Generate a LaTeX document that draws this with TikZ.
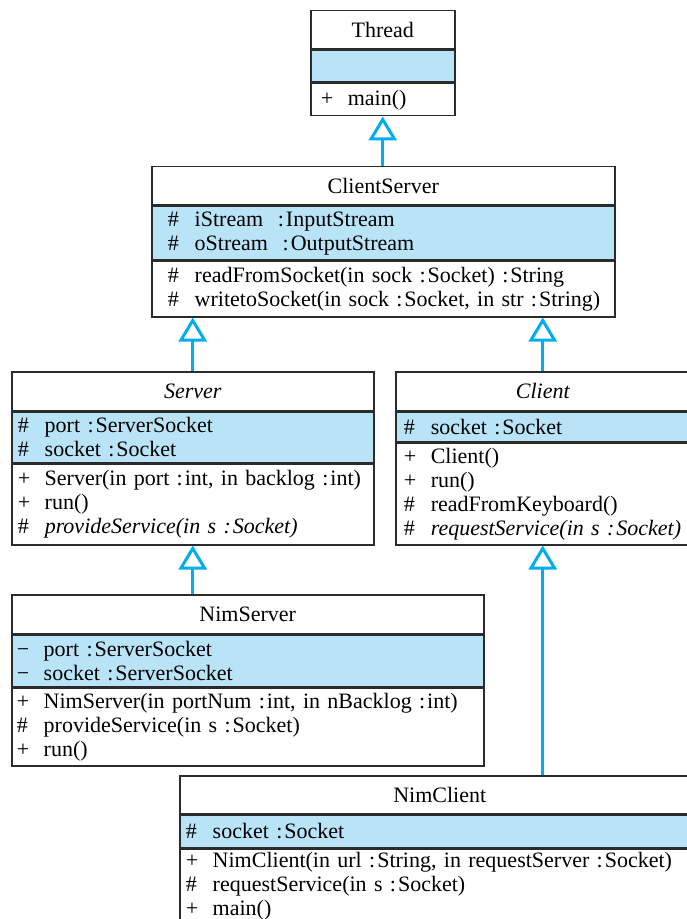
\documentclass[tikz,border=0pt]{standalone}
\usepackage{fontspec}
\setmainfont[WordSpace=0.75]{Liberation Serif}
\usetikzlibrary{arrows.meta}
\definecolor{umlblue}{HTML}{B9E4F8}
\definecolor{umlcyan}{HTML}{00AEEF}
\definecolor{umlline}{HTML}{2B2B2B}
\newcommand{\mem}[2]{\mbox{\makebox[13.5pt][l]{#1}#2}}

\begin{document}
\begin{tikzpicture}[x=0.5pt,y=-0.5pt,
	  part/.style={draw=umlline,line width=0.75pt,anchor=north west,inner ysep=0pt,
	    align=left,font=\fontsize{11}{12}\selectfont},
	  head/.style={part,fill=white,align=center},
	  attrs/.style={part,fill=umlblue},
	  ops/.style={part,fill=white},
	  isa/.style={draw=umlcyan,line width=1.5pt,-{Triangle[open,length=12pt,width=14pt]}}]
	  \useasboundingbox (0,0) rectangle (686,919);
	  % Thread
	  \node[head,inner xsep=5pt,text width=62pt,minimum height=19pt] (thhead) at (310,10) {Thread};
	  \node[attrs,inner xsep=5pt,text width=62pt,minimum height=16pt] (thattr) at (thhead.south west) {};
	  \node[ops,inner xsep=5pt,text width=62pt,minimum height=16pt] (thops) at (thattr.south west) {\mem{+}{main()}};
	  % ClientServer
	  \node[head,inner xsep=8pt,text width=215.5pt,minimum height=19pt] (cshead) at (151,166) {ClientServer};
	  \node[attrs,inner xsep=8pt,text width=215.5pt,minimum height=27pt] (csattr) at (cshead.south west)
	    {\mem{\#}{iStream\ \ :\kern1pt InputStream}\\ \mem{\#}{oStream\ \ :\kern1pt OutputStream}};
	  \node[ops,inner xsep=8pt,text width=215.5pt,minimum height=27.5pt] (csops) at (csattr.south west)
	    {\mem{\#}{readFromSocket(in sock :\kern1pt Socket) :\kern1pt String}\\
	     \mem{\#}{writetoSocket(in sock :\kern1pt Socket, in str :\kern1pt String)}};
	  % Server
	  \node[head,inner xsep=3pt,text width=175pt,minimum height=19.5pt] (srvhead) at (11,371) {\itshape Server};
	  \node[attrs,inner xsep=3pt,text width=175pt,minimum height=25pt] (srvattr) at (srvhead.south west)
	    {\mem{\#}{port :\kern1pt ServerSocket}\\ \mem{\#}{socket :\kern1pt Socket}};
	  \node[ops,inner xsep=3pt,text width=175pt,minimum height=40.5pt] (srvops) at (srvattr.south west)
	    {\mem{+}{Server(in port :\kern1pt int, in backlog :\kern1pt int)}\\ \mem{+}{run()}\\
	     \mem{\#}{\itshape provideService(in s :\kern1pt Socket)}};
	  % Client
	  \node[head,inner xsep=4pt,text width=139pt,minimum height=19.5pt] (clhead) at (395,371) {\itshape Client};
	  \node[attrs,inner xsep=4pt,text width=139pt,minimum height=14.5pt] (clattr) at (clhead.south west)
	    {\mem{\#}{socket :\kern1pt Socket}};
	  \node[ops,inner xsep=4pt,text width=139pt,minimum height=51pt] (clops) at (clattr.south west)
	    {\mem{+}{Client()}\\ \mem{+}{run()}\\ \mem{\#}{readFromKeyboard()}\\
	     \mem{\#}{\itshape requestService(in s :\kern1pt Socket)}};
	  % NimServer
	  \node[head,inner xsep=2.5pt,text width=231pt,minimum height=19.5pt] (nshead) at (11,594) {NimServer};
	  \node[attrs,inner xsep=2.5pt,text width=231pt,minimum height=25.5pt] (nsattr) at (nshead.south west)
	    {\mem{−}{port :\kern1pt ServerSocket}\\ \mem{−}{socket :\kern1pt ServerSocket}};
	  \node[ops,inner xsep=2.5pt,text width=231pt,minimum height=39pt] (nsops) at (nsattr.south west)
	    {\mem{+}{NimServer(in portNum :\kern1pt int, in nBacklog :\kern1pt int)}\\
	     \mem{\#}{provideService(in s :\kern1pt Socket)}\\ \mem{+}{run()}};
	  % NimClient
	  \node[head,inner xsep=3pt,text width=254pt,minimum height=19pt] (nchead) at (179,775) {NimClient};
	  \node[attrs,inner xsep=3pt,text width=254pt,minimum height=16pt] (ncattr) at (nchead.south west)
	    {\mem{\#}{socket :\kern1pt Socket}};
	  \node[ops,inner xsep=3pt,text width=254pt,minimum height=37pt] (ncops) at (ncattr.south west)
	    {\mem{+}{NimClient(in url :\kern1pt String, in requestServer :\kern1pt Socket)}\\
	     \mem{\#}{requestService(in s :\kern1pt Socket)}\\ \mem{+}{main()}};
	  % generalisations
	  \draw[isa] (cshead.north -| thops.south) -- (thops.south);
	  \draw[isa] (srvhead.north) -- (srvhead.north |- csops.south);
	  \draw[isa] (clhead.north) -- (clhead.north |- csops.south);
	  \draw[isa] (nshead.north -| srvops.south) -- (srvops.south);
	  \draw[isa] (nchead.north -| clops.south) -- (clops.south);
	\end{tikzpicture}
\end{document}
